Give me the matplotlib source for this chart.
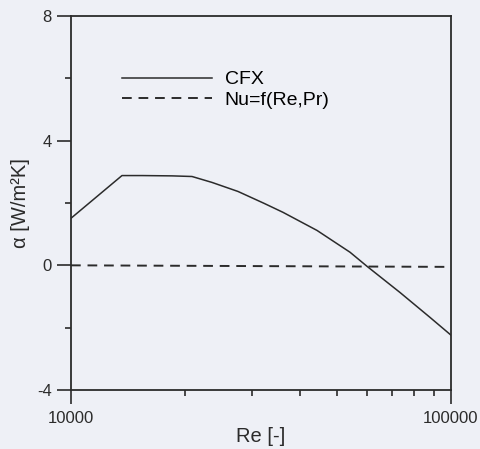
import matplotlib
matplotlib.use("Agg")
import matplotlib.pyplot as plt
from matplotlib.ticker import LogLocator, FixedLocator, NullFormatter

# CFX result
re_cfx = [10000, 13620, 15380, 18450, 20820, 23500, 27510, 32200,
          36140, 44400, 54240, 60100, 73400, 88050, 100000]
alpha_cfx = [1.51, 2.88, 2.88, 2.87, 2.85, 2.66, 2.37, 1.99,
             1.70, 1.12, 0.42, -0.03, -0.87, -1.67, -2.24]

# correlation Nu=f(Re,Pr)
re_nu = [10000, 100000]
alpha_nu = [0.0, -0.05]

plt.rcParams["font.family"] = ["Liberation Sans", "DejaVu Sans"]
plt.rcParams["font.size"] = 12
plt.rcParams["axes.unicode_minus"] = False

bg = "#eef0f6"
ink = "#2b2b2b"

fig = plt.figure(figsize=(4.81, 4.49), dpi=100, facecolor=bg)
ax = fig.add_axes([0.1476, 0.1314, 0.79, 0.833], facecolor=bg)

ax.plot(re_cfx, alpha_cfx, color=ink, lw=1.1, label="CFX")
ax.plot(re_nu, alpha_nu, color=ink, lw=1.4, dashes=(5, 3.5), label="Nu=f(Re,Pr)")

ax.set_xscale("log")
ax.set_xlim(10000, 100000)
ax.set_ylim(-4, 8)
ax.set_xticks([10000, 100000])
ax.set_xticklabels(["10000", "100000"])
ax.xaxis.set_minor_locator(LogLocator(base=10, subs=range(2, 10)))
ax.xaxis.set_minor_formatter(NullFormatter())
ax.set_yticks([-4, 0, 4, 8])
ax.yaxis.set_minor_locator(FixedLocator([-2, 2, 6]))

for s in ax.spines.values():
    s.set_color(ink)
    s.set_linewidth(1.3)

ax.tick_params(which="both", direction="out", colors=ink, width=1.2,
               top=False, right=False, labelcolor=ink)
ax.tick_params(axis="x", which="major", length=10, pad=5)
ax.tick_params(axis="y", which="major", length=10, pad=4)
ax.tick_params(which="minor", length=4.5)

ax.set_xlabel("Re [-]", color=ink, fontsize=14.5, labelpad=1)
ax.set_ylabel("α [W/m²K]", color=ink, fontsize=14.5, labelpad=5)

ax.legend(loc="upper left", bbox_to_anchor=(0.115, 0.874), frameon=False,
          handlelength=4.6, handletextpad=0.65, labelspacing=0.15,
          borderaxespad=0, fontsize=14)

fig.savefig("out.png", dpi=100, facecolor=bg)
